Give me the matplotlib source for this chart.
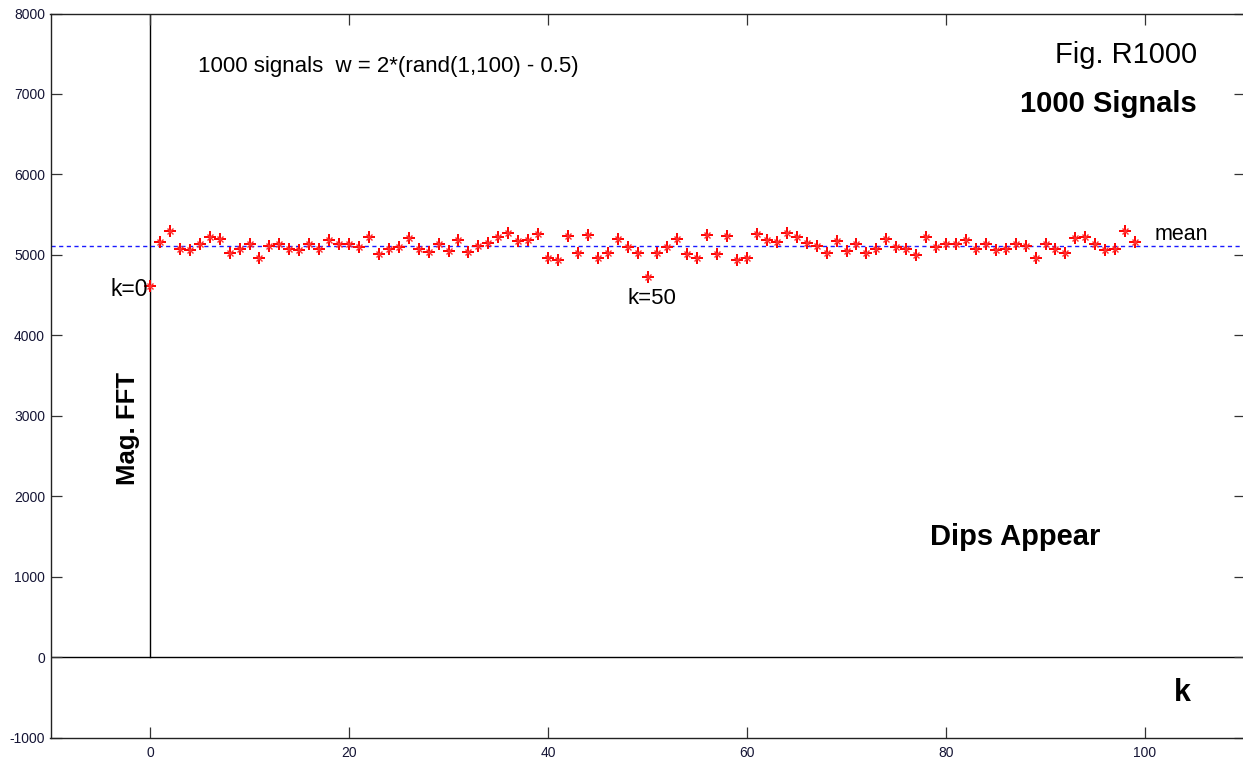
import numpy as np
import matplotlib
matplotlib.use("Agg")
import matplotlib.pyplot as plt

plt.rcParams['font.family'] = ['Liberation Sans', 'DejaVu Sans']

k = np.arange(100)
mag = [4609, 5164, 5296, 5068, 5056, 5139, 5221, 5201, 5027, 5068,
       5139, 4960, 5110, 5139, 5068, 5056, 5139, 5068, 5180, 5139,
       5139, 5097, 5221, 5006, 5068, 5097, 5209, 5068, 5035, 5139,
       5043, 5180, 5035, 5110, 5151, 5221, 5271, 5168, 5180, 5255,
       4960, 4932, 5234, 5019, 5250, 4960, 5019, 5201, 5097, 5027,
       4725, 5027, 5097, 5201, 5015, 4960, 5242, 5015, 5234, 4932,
       4960, 5263, 5180, 5160, 5271, 5221, 5147, 5110, 5027, 5172,
       5043, 5139, 5027, 5068, 5201, 5097, 5068, 5002, 5221, 5097,
       5139, 5139, 5180, 5068, 5139, 5056, 5068, 5139, 5110, 4960,
       5139, 5068, 5027, 5209, 5221, 5139, 5056, 5068, 5296, 5160]
mean_val = float(np.mean(mag))

xticks = [0, 20, 40, 60, 80, 100]
yticks = [-1000, 0, 1000, 2000, 3000, 4000, 5000, 6000, 7000, 8000]

fig = plt.figure(figsize=(12.43, 7.61), dpi=100)
ax = fig.add_axes([50.5 / 1243, 23.5 / 761, 1194 / 1243, 724 / 761])
ax.set_xlim(-10, 110)
ax.set_ylim(-1000, 8000)

# axis lines through origin
ax.axhline(0, color='black', lw=1.0, zorder=1)
ax.plot([0, 0], [0, 8000], color='black', lw=1.0, zorder=1)
# mean line
ax.axhline(mean_val, color='#1a1aff', lw=1.0, ls=(0, (3, 2.5)), zorder=2)

# asterisk-like markers
ax.plot(k, mag, ls='none', marker='+', ms=9, mew=1.4, color='#ff0000', zorder=3)
ax.plot(k, mag, ls='none', marker='x', ms=5, mew=1.0, color='#ff3030', zorder=3)

ax.set_xticks(xticks)
ax.set_yticks(yticks)
ax.set_xticklabels([str(v) for v in xticks])
ax.set_yticklabels([str(v) for v in yticks])
ax.tick_params(direction='in', length=8, width=0.9, top=True, right=True,
               labelsize=10, labelcolor='#151535', color='#333333')
ax.tick_params(axis='x', pad=6)
ax.tick_params(axis='y', pad=4)
for s in ax.spines.values():
    s.set_linewidth(1.0)
    s.set_color('#222222')
ax.spines['right'].set_visible(False)

ax.text(4.8, 7342, '1000 signals  w = 2*(rand(1,100) - 0.5)', fontsize=16,
        ha='left', va='center')
ax.text(105.2, 7478, 'Fig. R1000', fontsize=21, ha='right', va='center')
ax.text(105.2, 6880, '1000 Signals', fontsize=21, fontweight='bold',
        ha='right', va='center')
ax.text(101.0, 5255, 'mean', fontsize=15.5, ha='left', va='center')
ax.text(-0.2, 4571, 'k=0', fontsize=16.5, ha='right', va='center')
ax.text(48.0, 4460, 'k=50', fontsize=16, ha='left', va='center')
ax.text(-2.2, 2845, 'Mag. FFT', fontsize=18.5, fontweight='bold',
        rotation=90, ha='center', va='center')
ax.text(78.4, 1491, 'Dips Appear', fontsize=21, fontweight='bold',
        ha='left', va='center')
ax.text(103.8, -447, 'k', fontsize=22, fontweight='bold', ha='center',
        va='center')

fig.savefig('out.png', dpi=100)
